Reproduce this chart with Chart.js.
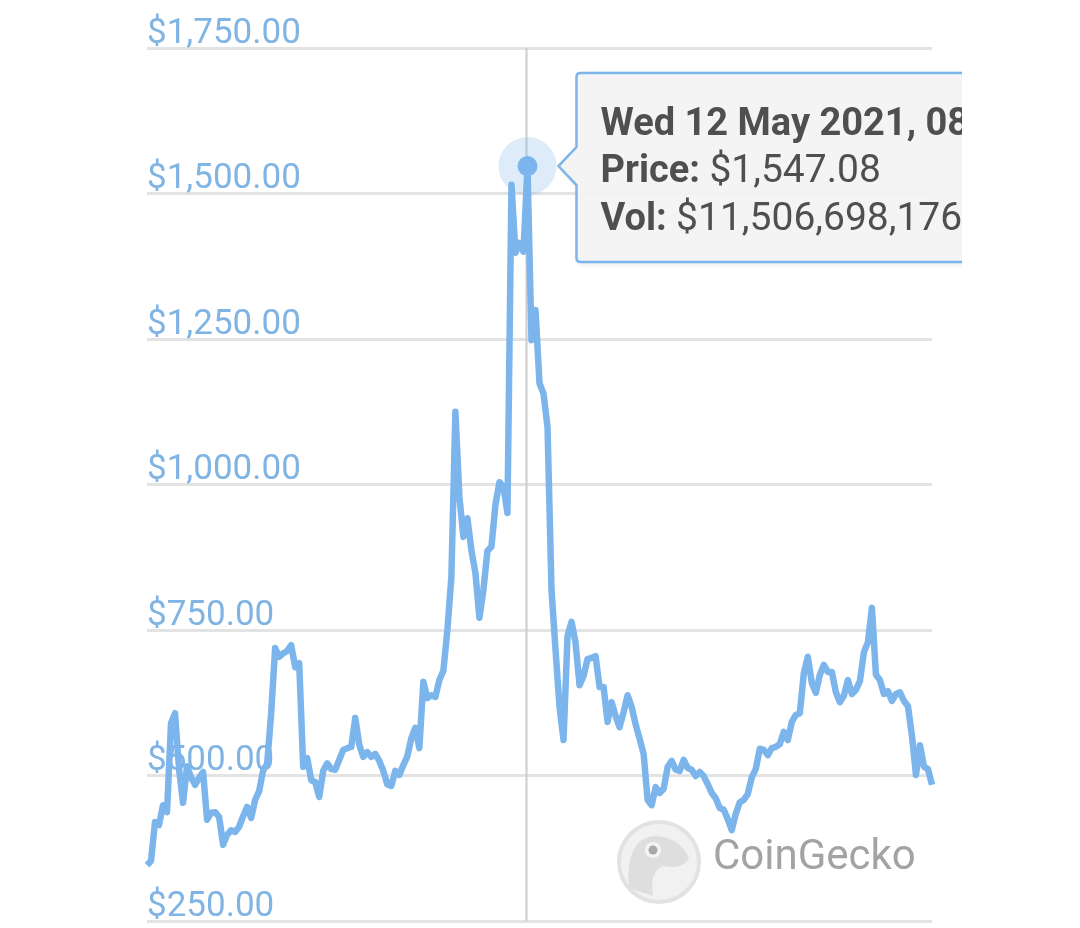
<!DOCTYPE html>
<html>
<head>
<meta charset="utf-8">
<script src="https://cdn.jsdelivr.net/npm/chart.js@4.4.1/dist/chart.umd.min.js"></script>
<style>
  html, body { margin: 0; padding: 0; background: #fff; }
  #wrap { width: 1080px; height: 928px; position: relative; }
</style>
</head>
<body>
<div id="wrap"><canvas id="priceChart"></canvas></div>
<script>
// BCH price, one sample every two days
const prices = [
  346, 353, 420, 415, 449, 437, 590, 607, 511, 453,
  516, 497, 484, 496, 506, 424, 436, 437, 429, 381,
  398, 406, 403, 412, 430, 446, 427, 458, 473, 509,
  520, 607, 719, 704, 710, 714, 724, 686, 693, 515,
  530, 492, 489, 463, 508, 521, 511, 510, 527, 544,
  547, 549, 599, 553, 532, 540, 532, 537, 525, 508,
  485, 482, 508, 501, 518, 533, 564, 582, 547, 661,
  633, 638, 635, 664, 680, 750, 841, 1125, 979, 910,
  942, 887, 848, 771, 819, 886, 893, 965, 1004, 996,
  951, 1515, 1398, 1415, 1400, 1547.08, 1248, 1300, 1174, 1156,
  1099, 819, 716, 618, 561, 740, 764, 728, 655, 671,
  700, 702, 705, 652, 652, 592, 626, 602, 583, 609,
  638, 618, 588, 563, 537, 458, 449, 480, 470, 477,
  515, 525, 510, 508, 527, 513, 510, 499, 506, 499,
  485, 470, 461, 444, 441, 425, 406, 434, 454, 458,
  468, 497, 511, 546, 544, 535, 547, 549, 554, 575,
  561, 592, 604, 607, 676, 704, 659, 642, 673, 690,
  678, 678, 643, 626, 637, 664, 640, 647, 662, 712,
  729, 788, 673, 664, 640, 645, 628, 640, 643, 628,
  619, 568, 501, 552, 515, 511, 484
];

const priceTicks = [250, 500, 750, 1000, 1250, 1500, 1750];

// hovered sample shown in the tooltip
const hoverIndex = 95;
const hoverTitle = 'Wed 12 May 2021, 08:00';
const hoverPrice = '$1,547.08';
const hoverVolume = '$11,506,698,176';

// dates: two days apart, ending up on 12 May 2021 at hoverIndex
const startDate = new Date(Date.UTC(2020, 10, 3));
const dates = prices.map((p, i) => {
    const d = new Date(startDate.getTime() + i * 2 * 86400000);
    return d.toISOString().slice(0, 10);
});

const money = v => '$' + v.toLocaleString('en-US', { minimumFractionDigits: 2, maximumFractionDigits: 2 });

// crosshair + coingecko mark behind the line
const backdropPlugin = {
    id: 'backdrop',
    beforeDatasetsDraw(chart) {
        const ctx = chart.ctx;
        const area = chart.chartArea;
        const pt = chart.getDatasetMeta(0).data[hoverIndex];

        // watermark
        ctx.save();
        const cx = 659, cy = 862, r = 40;
        ctx.beginPath();
        ctx.arc(cx, cy, r, 0, Math.PI * 2);
        ctx.fillStyle = '#f1f1f1';
        ctx.fill();
        ctx.lineWidth = 4;
        ctx.strokeStyle = '#e2e2e2';
        ctx.stroke();
        // gecko head
        ctx.beginPath();
        ctx.moveTo(cx - 30, cy + 26);
        ctx.quadraticCurveTo(cx - 34, cy - 22, cx - 6, cy - 26);
        ctx.quadraticCurveTo(cx + 20, cy - 26, cx + 30, cy - 4);
        ctx.quadraticCurveTo(cx + 24, cy + 8, cx + 4, cy + 4);
        ctx.quadraticCurveTo(cx - 10, cy + 10, cx - 6, cy + 34);
        ctx.closePath();
        ctx.fillStyle = '#dedede';
        ctx.fill();
        ctx.beginPath();
        ctx.arc(cx - 6, cy - 12, 8, 0, Math.PI * 2);
        ctx.fillStyle = '#f4f4f4';
        ctx.fill();
        ctx.beginPath();
        ctx.arc(cx - 6, cy - 12, 4.5, 0, Math.PI * 2);
        ctx.fillStyle = '#a9a9a9';
        ctx.fill();
        ctx.font = '42px Roboto';
        ctx.fillStyle = '#a3a3a3';
        ctx.textBaseline = 'middle';
        ctx.fillText('CoinGecko', 713, 858);
        ctx.restore();

        // crosshair
        ctx.save();
        ctx.strokeStyle = '#cccccc';
        ctx.lineWidth = 2;
        ctx.beginPath();
        ctx.moveTo(pt.x - 1, area.top);
        ctx.lineTo(pt.x - 1, area.bottom);
        ctx.stroke();
        ctx.restore();
    }
};

// highcharts-like hover marker and tooltip
const tooltipPlugin = {
    id: 'hoverTip',
    afterDatasetsDraw(chart) {
        const ctx = chart.ctx;
        const pt = chart.getDatasetMeta(0).data[hoverIndex];

        ctx.save();
        ctx.beginPath();
        ctx.arc(pt.x, pt.y, 29, 0, Math.PI * 2);
        ctx.fillStyle = 'rgba(124, 181, 236, 0.25)';
        ctx.fill();
        ctx.beginPath();
        ctx.arc(pt.x, pt.y, 10, 0, Math.PI * 2);
        ctx.fillStyle = '#7cb5ec';
        ctx.fill();
        ctx.restore();

        // box
        const left = pt.x + 49, top = 73, bottom = 262, right = 1000;
        const tipX = pt.x + 31;
        ctx.save();
        ctx.beginPath();
        ctx.rect(0, 0, 962, chart.height);
        ctx.clip();

        ctx.beginPath();
        const rad = 4;
        ctx.moveTo(left + rad, top);
        ctx.lineTo(right, top);
        ctx.lineTo(right, bottom);
        ctx.lineTo(left + rad, bottom);
        ctx.quadraticCurveTo(left, bottom, left, bottom - rad);
        ctx.lineTo(left, pt.y + 19);
        ctx.lineTo(tipX, pt.y);
        ctx.lineTo(left, pt.y - 19);
        ctx.lineTo(left, top + rad);
        ctx.quadraticCurveTo(left, top, left + rad, top);
        ctx.closePath();
        ctx.shadowColor = 'rgba(0,0,0,0.12)';
        ctx.shadowBlur = 6;
        ctx.shadowOffsetX = 2;
        ctx.shadowOffsetY = 2;
        ctx.fillStyle = 'rgba(244, 244, 244, 0.95)';
        ctx.fill();
        ctx.shadowColor = 'transparent';
        ctx.lineWidth = 2.5;
        ctx.strokeStyle = '#7cb5ec';
        ctx.stroke();

        const tx = left + 24;
        ctx.fillStyle = '#4f4f4f';
        ctx.textBaseline = 'alphabetic';
        ctx.font = 'bold 38px Roboto';
        ctx.fillText(hoverTitle, tx, 135);

        const rows = [['Price:', hoverPrice, 182], ['Vol:', hoverVolume, 230]];
        rows.forEach(([k, v, y]) => {
            ctx.font = 'bold 38px Roboto';
            ctx.fillText(k, tx, y);
            const w = ctx.measureText(k + ' ').width;
            ctx.font = '39px Roboto';
            ctx.fillText(v, tx + w, y);
        });
        ctx.restore();
    }
};

const chart = new Chart(document.getElementById('priceChart'), {
    type: 'line',
    data: {
        labels: dates,
        datasets: [{
            label: 'Price',
            data: prices,
            borderColor: '#7cb5ec',
            borderWidth: 6.5,
            borderJoinStyle: 'round',
            pointRadius: 0,
            tension: 0,
            fill: false
        }]
    },
    options: {
        responsive: true,
        maintainAspectRatio: false,
        animation: false,
        events: [],
        layout: {
            padding: { left: 147, right: 148, top: 48, bottom: 7 }
        },
        scales: {
            x: {
                display: false
            },
            y: {
                min: 250,
                max: 1750,
                afterBuildTicks(axis) {
                    axis.ticks = priceTicks.map(v => ({ value: v }));
                },
                afterFit(axis) {
                    // labels sit inside the plot, no overhang needed
                    axis.paddingTop = 0;
                    axis.paddingBottom = 0;
                },
                border: { display: false },
                grid: {
                    color: '#e3e3e3',
                    lineWidth: 3,
                    drawTicks: false
                },
                ticks: {
                    mirror: true,
                    padding: 0,
                    labelOffset: -14,
                    color: '#80b4e4',
                    font: { family: 'Roboto', size: 35 },
                    callback: v => money(v)
                }
            }
        },
        plugins: {
            legend: { display: false },
            tooltip: { enabled: false }
        }
    },
    plugins: [backdropPlugin, tooltipPlugin]
});
</script>
</body>
</html>
